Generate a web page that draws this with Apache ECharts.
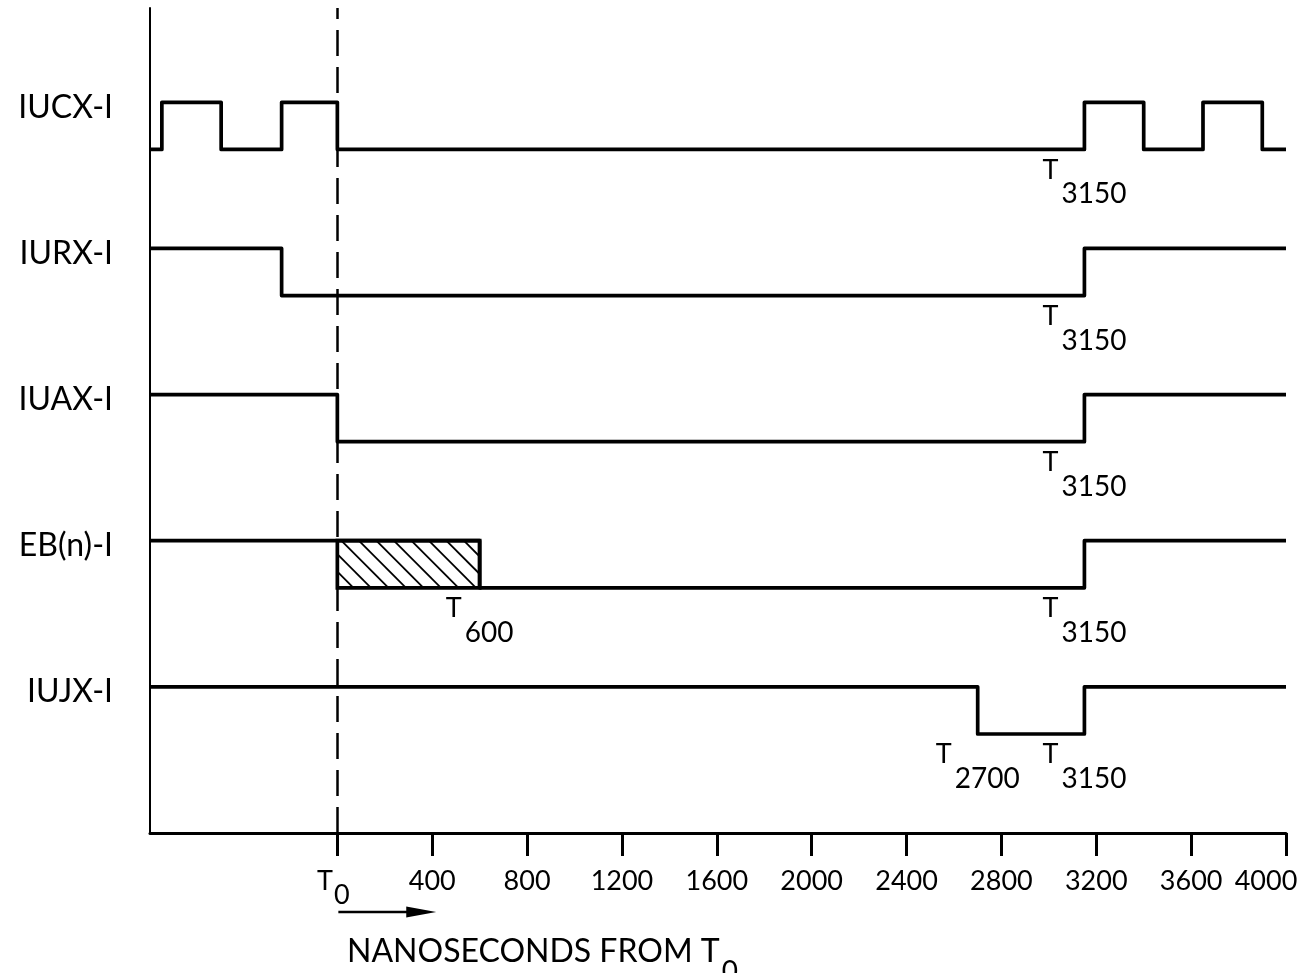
<!DOCTYPE html>
<html><head><meta charset="utf-8">
<script src="https://cdn.jsdelivr.net/npm/echarts@6/dist/echarts.min.js"></script>
<style>html,body{margin:0;padding:0;background:#fff}#c{width:1308px;height:973px}</style>
</head><body><div id="c"></div>
<script>
// ---- data ----
const signalNames = ['IUCX-I', 'IURX-I', 'IUAX-I', 'EB(n)-I', 'IUJX-I'];
// [time ns from T0, logic state]
const iucx = [[-790,0],[-740,1],[-490,0],[-235,1],[0,0],[3150,1],[3400,0],[3650,1],[3900,0],[4000,0]];
const iurx = [[-790,1],[-235,0],[3150,1],[4000,1]];
const iuax = [[-790,1],[0,0],[3150,1],[4000,1]];
const ebn  = [[-790,1],[600,0],[3150,1],[4000,1]];
const iujx = [[-790,1],[2700,0],[3150,1],[4000,1]];
const ebUncertain = [0, 600];           // hatched window on EB(n)-I
const timeTicks = [0,400,800,1200,1600,2000,2400,2800,3200,3600,4000];
const markerLanes = [0, 1, 2, 3, 3, 4, 4];
const markerTimes = [3150, 3150, 3150, 600, 3150, 2700, 3150];

// ---- layout helpers ----
const signals = [iucx, iurx, iuax, ebn, iujx];
const N = signals.length;
const LANE_BASE = 2.1, LANE_GAP = 3.1, NAME_SHIFT = 0.11;
const laneLow = i => LANE_BASE + (N - 1 - i) * LANE_GAP;
const FONT = 'Lato';
const BLACK = '#000';

const chart = echarts.init(document.getElementById('c'), null, {renderer: 'canvas'});

const series = signals.map((d, i) => ({
  type: 'line', step: 'end', symbol: 'none', silent: true, animation: false,
  data: d.map(([t, s]) => [t, laneLow(i) + s]),
  lineStyle: {color: BLACK, width: 3.7, join: 'round', cap: 'butt'},
  z: 3
}));

// dashed T0 line
series[0].markLine = {
  silent: true, symbol: ['none', 'none'], animation: false,
  label: {show: false},
  lineStyle: {color: BLACK, width: 2.5, type: [26, 11]},
  data: [{xAxis: 0}]
};

// hatched uncertain window
series.push({
  type: 'custom', silent: true, animation: false, clip: false, z: 4,
  data: [[ebUncertain[0], ebUncertain[1], 3]],
  renderItem: function (params, api) {
    const lane = api.value(2);
    const p0 = api.coord([api.value(0), laneLow(lane) + 1]);
    const p1 = api.coord([api.value(1), laneLow(lane)]);
    const x0 = p0[0], y0 = p0[1], x1 = p1[0], y1 = p1[1];
    const h = y1 - y0;
    const children = [];
    const step = 17.5;
    for (let c = x0 + 4 - Math.ceil(h / step) * step; c < x1; c += step) {
      const ys = Math.max(y0, y0 + (x0 - c));
      const ye = Math.min(y1, y0 + (x1 - c));
      if (ye - ys > 0.5) {
        children.push({type: 'line', shape: {x1: c + (ys - y0), y1: ys, x2: c + (ye - y0), y2: ye},
          style: {stroke: BLACK, lineWidth: 1.8}});
      }
    }
    children.push({type: 'rect', shape: {x: x0, y: y0, width: x1 - x0, height: h},
      style: {fill: 'none', stroke: BLACK, lineWidth: 3.7}});
    return {type: 'group', children: children};
  }
});

// T-subscript markers
series.push({
  type: 'scatter', silent: true, animation: false, symbol: 'circle', symbolSize: 0,
  itemStyle: {color: BLACK, opacity: 1}, z: 5,
  emphasis: {disabled: true},
  data: markerTimes.map((t, k) => [t, laneLow(markerLanes[k])]),
  label: {
    show: true, position: 'bottom', distance: 7, color: BLACK, opacity: 1,
    formatter: p => '{t|T}{s|' + p.value[0] + '}',
    rich: {
      t: {fontSize: 27, verticalAlign: 'top', fontFamily: FONT, color: BLACK, opacity: 1},
      s: {fontSize: 28, lineHeight: 52, verticalAlign: 'bottom', fontFamily: FONT, color: BLACK, opacity: 1, padding: [0, 0, 0, 3]}
    }
  }
});

const option = {
  backgroundColor: '#fff',
  animation: false,
  title: {
    text: '{a|NANOSECONDS FROM T}{s|0}',
    left: 347, top: 936, padding: 0,
    textStyle: {
      fontWeight: 'normal',
      rich: {
        a: {fontSize: 32, lineHeight: 32, verticalAlign: 'top', fontFamily: FONT, fontWeight: 'normal', color: BLACK},
        s: {fontSize: 28, lineHeight: 50, verticalAlign: 'bottom', fontFamily: FONT, fontWeight: 'normal', color: BLACK, padding: [0, 0, 0, 2]}
      }
    }
  },
  grid: {left: 150, right: 22, top: 8, bottom: 140, containLabel: false, outerBoundsMode: 'none'},
  xAxis: {
    type: 'value', min: -790, max: 4000,
    splitLine: {show: false},
    axisLine: {show: true, onZero: false, lineStyle: {color: BLACK, width: 3}},
    axisTick: {show: true, customValues: timeTicks, length: 23, lineStyle: {color: BLACK, width: 3}},
    axisLabel: {
      customValues: timeTicks, margin: 35, color: BLACK, fontFamily: FONT,
      formatter: v => v === 0 ? '{t|T}{s|0}' : (v === timeTicks[timeTicks.length - 1] ? '{l|' + v + '}' : '{n|' + v + '}'),
      rich: {
        n: {fontSize: 27, fontFamily: FONT, color: BLACK},
        l: {fontSize: 27, padding: [0, 40, 0, 0], fontFamily: FONT, color: BLACK},
        t: {fontSize: 27, verticalAlign: 'top', fontFamily: FONT, color: BLACK},
        s: {fontSize: 27, lineHeight: 41, verticalAlign: 'bottom', fontFamily: FONT, color: BLACK, padding: [0, 8, 0, 1]}
      }
    }
  },
  yAxis: {
    type: 'value', min: 0, max: 17.5,
    splitLine: {show: false},
    axisLine: {show: true, onZero: false, lineStyle: {color: BLACK, width: 2}},
    axisTick: {show: false},
    axisLabel: {
      customValues: signalNames.map((_, i) => laneLow(i) + 1 - NAME_SHIFT),
      formatter: v => signalNames[N - 1 - Math.round((v - 1 - LANE_BASE) / LANE_GAP)],
      fontSize: 32, margin: 37, color: BLACK, fontFamily: FONT
    }
  },
  series: series
};
chart.setOption(option);

// arrow under T0 pointing along the time axis
const xa = chart.convertToPixel({xAxisIndex: 0}, timeTicks[0]);
const xb = chart.convertToPixel({xAxisIndex: 0}, timeTicks[1]);
chart.setOption({
  graphic: [
    {type: 'line', shape: {x1: xa + 1, y1: 912, x2: xb - 20, y2: 912}, style: {stroke: BLACK, lineWidth: 2.5}},
    {type: 'polygon', shape: {points: [[xb - 26, 906.5], [xb + 4, 912], [xb - 26, 917.5]]}, style: {fill: BLACK}}
  ]
});
</script>
</body></html>
